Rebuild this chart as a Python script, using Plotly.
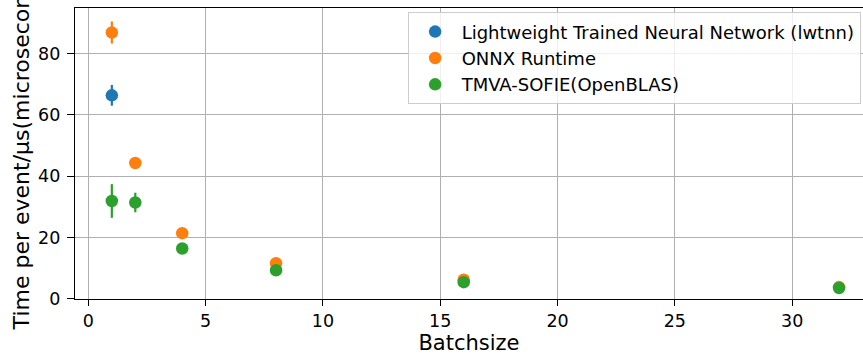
import plotly.graph_objects as go

# Data
series_names = ["Lightweight Trained Neural Network (lwtnn)", "ONNX Runtime", "TMVA-SOFIE(OpenBLAS)"]
colors = ["#1f77b4", "#ff7f0e", "#2ca02c"]

lwtnn_x = [1]
lwtnn_y = [66.4]
lwtnn_err = [3.4]

onnx_x = [1, 2, 4, 8, 16, 32]
onnx_y = [86.9, 44.3, 21.4, 11.6, 6.2, 3.8]
onnx_err = [3.6, 0.6, 0.5, 0.3, 0.2, 0.1]

sofie_x = [1, 2, 4, 8, 16, 32]
sofie_y = [31.9, 31.4, 16.4, 9.3, 5.4, 3.5]
sofie_err = [5.5, 3.2, 0.5, 0.3, 0.2, 0.1]

x_ticks = [0, 5, 10, 15, 20, 25, 30]
y_ticks = [0, 20, 40, 60, 80]

x_title = "Batchsize"
y_title = "Time per event/µs(microseconds)"

fig = go.Figure()
for name, col, xs, ys, es in [
    (series_names[0], colors[0], lwtnn_x, lwtnn_y, lwtnn_err),
    (series_names[1], colors[1], onnx_x, onnx_y, onnx_err),
    (series_names[2], colors[2], sofie_x, sofie_y, sofie_err),
]:
    fig.add_trace(go.Scatter(
        x=xs, y=ys, mode="markers", name=name,
        marker=dict(color=col, size=12.5, line=dict(width=0)),
        error_y=dict(type="data", array=es, visible=True, color=col, thickness=2.2, width=0),
    ))

font_family = "DejaVu Sans"
fig.update_layout(
    width=863, height=355,
    margin=dict(l=75, r=0, t=8, b=56),
    paper_bgcolor="white", plot_bgcolor="white",
    font=dict(family=font_family, color="black", size=17),
    showlegend=True,
    legend=dict(
        x=0.997, y=0.985, xanchor="right", yanchor="top",
        bgcolor="rgba(255,255,255,0.8)", bordercolor="#cccccc", borderwidth=1,
        font=dict(family=font_family, size=18, color="black"),
        itemwidth=43,
    ),
    xaxis=dict(
        range=[-0.57, 33.02], tickvals=x_ticks, ticktext=[str(v) for v in x_ticks],
        showgrid=True, gridcolor="#b0b0b0", gridwidth=1.3,
        showline=True, linecolor="black", linewidth=1.4, mirror=True,
        ticks="outside", ticklen=6, tickwidth=1.4, tickcolor="black",
        tickfont=dict(size=17.5), zeroline=False,
        title=dict(text=x_title, font=dict(size=21), standoff=10),
    ),
    yaxis=dict(
        range=[-0.1, 94.9], tickvals=y_ticks, ticktext=[str(v) for v in y_ticks],
        showgrid=True, gridcolor="#b0b0b0", gridwidth=1.3,
        showline=True, linecolor="black", linewidth=1.4, mirror=False,
        ticks="outside", ticklen=7, tickwidth=1.4, tickcolor="black",
        tickfont=dict(size=17.5), zeroline=False, ticklabelstandoff=3,
    ),
    annotations=[dict(
        text=y_title, textangle=-90, showarrow=False,
        xref="paper", yref="paper",
        x=(21 - 75) / 788.0, y=(299.5 - 333) / 292.0,
        xanchor="center", yanchor="bottom",
        font=dict(family=font_family, size=22, color="black"),
    )],
)

fig.write_html("out.html")
